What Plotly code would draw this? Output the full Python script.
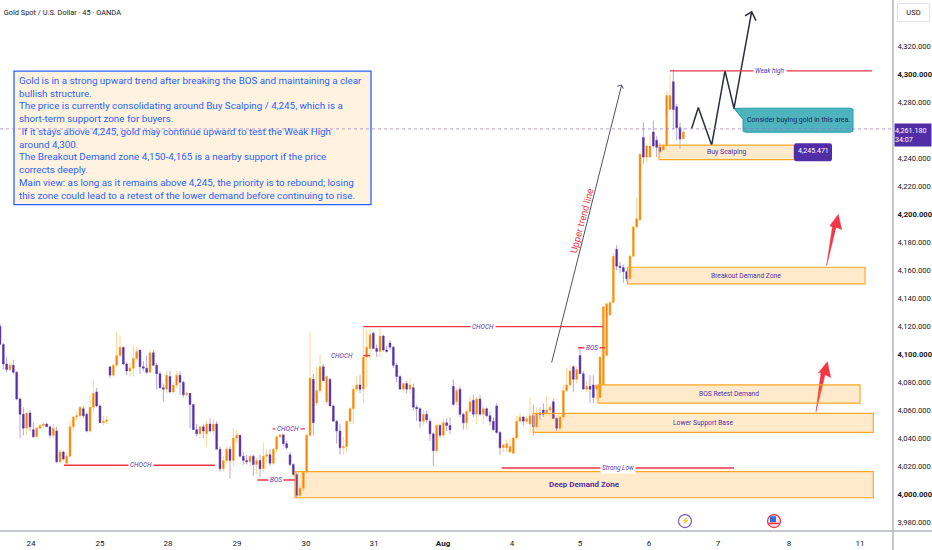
import plotly.graph_objects as go

opens = [4120,4107,4093,4089,4092,4087,4068,4057,4047,4058,4046,4041,4047,4049,4050,4048,4042,4045,4023,4030,
         4022,4027,4048,4055,4056,4061,4057,4045,4062,4073,4063,4051,4052,4091,4085,4092,4099,4105,4093,4088,
         4090,4097,4103,4091,4090,4087,4101,4092,4086,4076,4075,4084,4073,4078,4085,4080,4071,4072,4064,4046,
         4043,4048,4043,4050,4045,4050,4032,4018,4024,4032,4024,4040,4042,4027,4024,4023,4027,4021,4024,4018,
         4027,4028,4022,4032,4041,4045,4036,4028,4021,4014,3999,4004,4016,4042,4082,4065,4074,4091,4066,4082,
         4063,4052,4045,4033,4034,4052,4061,4075,4078,4075,4098,4104,4115,4104,4102,4113,4103,4108,4105,4092,
         4084,4075,4079,4075,4076,4062,4061,4052,4057,4052,4043,4031,4049,4042,4051,4049,4077,4066,4075,4057,
         4051,4059,4067,4057,4068,4057,4061,4056,4052,4063,4044,4033,4033,4030,4029,4040,4052,4055,4052,4050,
         4056,4048,4058,4060,4058,4060,4066,4054,4047,4055,4074,4078,4091,4082,4099,4086,4075,4077,4078,4075,
         4069,4078,4099,4128,4137,4175,4163,4162,4159,4154,4170,4191,4196,4255,4241,4241,4259,4253,4248,4246,
         4249,4275,4295,4277,4262,4254,4259]
highs = [4122,4108,4098,4095,4096,4088,4069,4062,4058,4060,4051,4048,4050,4051,4051,4049,4050,4048,4032,4031,
         4030,4052,4056,4059,4063,4063,4058,4070,4081,4076,4064,4056,4056,4091,4093,4116,4113,4105,4094,4094,
         4106,4105,4103,4095,4099,4103,4103,4094,4088,4079,4088,4088,4080,4088,4088,4081,4074,4072,4064,4050,
         4049,4050,4052,4054,4054,4052,4034,4027,4034,4034,4047,4046,4042,4030,4028,4028,4028,4026,4028,4037,
         4032,4032,4033,4042,4048,4045,4038,4030,4022,4015,4006,4017,4043,4116,4086,4091,4100,4093,4085,4083,
         4064,4053,4050,4041,4052,4062,4078,4084,4085,4119,4118,4118,4116,4107,4118,4114,4106,4110,4106,4094,
         4085,4080,4081,4083,4079,4064,4062,4060,4060,4054,4044,4050,4050,4054,4054,4055,4082,4076,4077,4058,
         4060,4070,4071,4070,4071,4063,4062,4059,4055,4065,4045,4036,4039,4040,4041,4056,4058,4056,4056,4069,
         4064,4062,4062,4065,4070,4064,4068,4055,4056,4078,4090,4092,4092,4091,4105,4088,4081,4085,4085,4077,
         4084,4099,4135,4138,4172,4178,4166,4164,4160,4171,4192,4212,4245,4266,4250,4257,4267,4256,4251,4250,
         4288,4300,4304,4279,4266,4262,4267]
lows = [4107,4089,4087,4088,4086,4067,4040,4042,4042,4045,4040,4040,4046,4047,4048,4040,4040,4022,4022,4024,
        4021,4026,4045,4052,4054,4054,4044,4044,4058,4062,4051,4049,4050,4083,4084,4091,4098,4092,4085,4084,
        4084,4095,4086,4088,4086,4087,4092,4075,4075,4066,4072,4072,4072,4076,4071,4069,4070,4047,4046,4041,
        4040,4040,4034,4044,4042,4032,4016,4016,4022,4011,4020,4036,4026,4021,4021,4020,4013,4014,4012,4016,
        4022,4020,4021,4030,4040,4034,4032,4020,4013,3997,3998,4002,4015,4041,4042,4063,4072,4081,4064,4063,
        4052,4036,4028,4028,4030,4050,4050,4073,4072,4065,4076,4096,4104,4098,4098,4102,4101,4103,4090,4080,
        4075,4073,4072,4072,4060,4052,4047,4049,4051,4038,4020,4029,4040,4040,4045,4043,4063,4063,4055,4046,
        4046,4058,4055,4050,4056,4050,4055,4049,4045,4043,4028,4030,4030,4029,4029,4039,4051,4049,4050,4043,
        4042,4047,4053,4055,4056,4056,4054,4045,4045,4054,4073,4076,4073,4079,4086,4075,4073,4065,4065,4067,
        4076,4096,4126,4136,4162,4160,4158,4151,4152,4168,4182,4190,4224,4236,4237,4247,4248,4241,4244,4247,
        4272,4274,4261,4253,4247,4258]
closes = [4107,4093,4089,4092,4087,4068,4057,4047,4058,4048,4041,4047,4049,4050,4048,4042,4047,4023,4030,4025,
          4027,4048,4055,4056,4062,4056,4045,4062,4072,4063,4051,4052,4053,4085,4092,4099,4105,4093,4088,4090,
          4097,4102,4091,4090,4087,4101,4092,4086,4076,4075,4085,4073,4078,4085,4080,4071,4072,4064,4046,4043,
          4048,4045,4050,4045,4050,4032,4018,4024,4032,4024,4040,4042,4027,4024,4023,4027,4021,4024,4018,4027,
          4028,4022,4032,4041,4045,4036,4033,4021,4014,3999,4004,4016,4042,4083,4051,4074,4091,4081,4084,4063,
          4052,4045,4033,4034,4052,4061,4075,4078,4075,4098,4105,4114,4104,4102,4113,4103,4102,4105,4092,4084,
          4075,4079,4075,4078,4062,4061,4052,4057,4053,4043,4031,4049,4042,4051,4049,4046,4064,4074,4057,4051,
          4059,4066,4057,4068,4057,4061,4056,4052,4046,4044,4033,4035,4036,4034,4040,4052,4055,4052,4054,4056,
          4048,4058,4057,4057,4060,4062,4054,4047,4055,4074,4078,4088,4082,4089,4086,4075,4077,4075,4069,4078,
          4098,4134,4136,4137,4170,4163,4162,4159,4154,4170,4191,4197,4243,4241,4249,4249,4249,4248,4245,4249,
          4285,4285,4275,4262,4254,4259,4261.18]
bars = list(range(len(closes)))

day_labels = ["24","25","28","29","30","31","<b>Aug</b>","4","5","6","7","8","11"]
day_bars = [9.3,30,50.4,71.1,91.8,112.2,132.9,153.6,174,194.7,215.4,236.7,258]
# 4,260 is hidden by the last price tag
price_ticks = [p for p in range(3980,4321,20) if p != 4260]
price_labels = [("<b>%s</b>" if p%100==0 else "%s") % f"{p:,.3f}" for p in price_ticks]

zone_names = ["Deep Demand Zone","Lower Support Base","BOS Retest Demand","Breakout Demand Zone","Buy Scalping"]
zone_left = [88.5,160,179.4,188.3,197.7]
zone_right = [262,262,258,259.5,238.2]
zone_low = [3997.3,4044,4065,4150.3,4239.2]
zone_high = [4016,4057.6,4078,4162.2,4249.5]

line_names = ["CHOCH","BOS","CHOCH","CHOCH","CHOCH","BOS","Strong Low","Weak high"]
line_left = [19.2,77.2,81.8,111,109,173.4,150.5,201]
line_right = [64.5,88.5,91.5,109,181,181.5,220.2,261.6]
line_price = [4020.5,4010,4046.6,4099,4119.7,4104.6,4018.6,4302.7]
line_label_x = [42.3,82.8,86.5,102.5,145,177.5,185.3,231]

zigzag_x = [207.5,209.5,213.5,217.5,220.2,225.5,None,223.5,225.5,226.8]
zigzag_y = [4261.4,4276.5,4249.5,4302.7,4275.8,4345,None,4342,4345,4338.6]
trend_x = [165.5,186.5,None,185.2,186.5,187]
trend_y = [4094,4292.5,None,4291.8,4292.5,4290]
red_arrow1_x = [248,249.7,249,251.5,252.5,250.8,248]
red_arrow1_y = [4163.4,4190.9,4192.1,4200,4189.2,4190.9,4163.4]
red_arrow2_x = [244.8,246.3,245.5,248.2,249.2,247.5,244.8]
red_arrow2_y = [4058.8,4087,4086.5,4094.6,4083.4,4085.3,4058.8]
callout_x = [220.2,223.8,255.2,255.9,255.9,255.2,223.6,222.9,222.9,220.2]
callout_y = [4275.8,4276,4276,4275.3,4259.6,4258.8,4258.8,4259.6,4268,4275.8]
icon_bars = [205.5,232.2]
icon_price = 3980.6

note_lines = [
    "Gold is in a strong upward trend after breaking the BOS and maintaining a clear",
    "bullish structure.",
    "The price is currently consolidating around Buy Scalping / 4,245, which is a",
    "short-term support zone for buyers.",
    " If it stays above 4,245, gold may continue upward to test the Weak High",
    "around 4,300.",
    "The Breakout Demand zone 4,150-4,165 is a nearby support if the price",
    "corrects deeply.",
    "Main view: as long as it remains above 4,245, the priority is to rebound; losing",
    "this zone could lead to a retest of the lower demand before continuing to rise.",
]
last_price = 4261.18
bid_price = 4245.471

PURPLE = "#512da8"
ORANGE = "#f57c00"
RED = "#f23645"
FONT = "Roboto, sans-serif"

fig = go.Figure()
fig.add_trace(go.Candlestick(
    x=bars, open=opens, high=highs, low=lows, close=closes,
    increasing=dict(line=dict(color="rgba(255,167,38,0.5)", width=1), fillcolor=ORANGE),
    decreasing=dict(line=dict(color="rgba(94,53,177,0.45)", width=1), fillcolor=PURPLE),
    hoverinfo="skip", showlegend=False,
))

for xs, ys in [(red_arrow1_x, red_arrow1_y), (red_arrow2_x, red_arrow2_y)]:
    fig.add_trace(go.Scatter(x=xs, y=ys, mode="lines", fill="toself", fillcolor=RED,
                             line=dict(color=RED, width=0.5), showlegend=False, hoverinfo="skip"))
fig.add_trace(go.Scatter(x=trend_x, y=trend_y, mode="lines", line=dict(color="#50535e", width=1),
                         showlegend=False, hoverinfo="skip"))
fig.add_trace(go.Scatter(x=callout_x, y=callout_y, mode="lines", fill="toself", fillcolor="#4db3bd",
                         line=dict(color="#2a9da8", width=1), showlegend=False, hoverinfo="skip"))
fig.add_trace(go.Scatter(x=zigzag_x, y=zigzag_y, mode="lines", line=dict(color="#2a2e39", width=1.5),
                         showlegend=False, hoverinfo="skip"))

# little icons under the candles: lightning and US flag
fig.add_trace(go.Scatter(x=icon_bars[:1], y=[icon_price], mode="markers+text", text=["⚡"], textposition="middle center",
                         textfont=dict(size=7, color="#7e57c2"),
                         marker=dict(size=13, color="white", line=dict(color="#7e57c2", width=1.2)),
                         showlegend=False, hoverinfo="skip", cliponaxis=False))
fig.add_trace(go.Scatter(x=icon_bars[1:], y=[icon_price], mode="markers",
                         marker=dict(size=13, color="#fde0e2", line=dict(color=RED, width=1.2)),
                         showlegend=False, hoverinfo="skip", cliponaxis=False))
fig.add_trace(go.Scatter(x=[icon_bars[1]-0.3], y=[icon_price+1.3], mode="markers",
                         marker=dict(size=6, color="#2f6fe0", symbol="square"),
                         showlegend=False, hoverinfo="skip", cliponaxis=False))
fig.add_trace(go.Scatter(x=[icon_bars[1]], y=[icon_price-1.7], mode="markers",
                         marker=dict(size=8, symbol="line-ew", line=dict(color=RED, width=1.5)),
                         showlegend=False, hoverinfo="skip", cliponaxis=False))

# zones sit over the candles with a see-through fill
zone_sizes = [8, 6.7, 6.7, 6.7, 6.9]
for left, right, low, high, name, size in zip(zone_left, zone_right, zone_low, zone_high, zone_names, zone_sizes):
    fig.add_shape(type="rect", x0=left, x1=right, y0=low, y1=high, layer="above",
                  fillcolor="rgba(255,152,0,0.2)", line=dict(color="#ffa726", width=1.2))
    text = f"<b>{name}</b>" if name.startswith("Deep") else name
    fig.add_annotation(x=(left+right)/2, y=(low+high)/2, text=text,
                       showarrow=False, font=dict(family=FONT, size=size, color=PURPLE))

for left, right, price, label_x, name in zip(line_left, line_right, line_price, line_label_x, line_names):
    fig.add_shape(type="line", x0=left, x1=right, y0=price, y1=price, layer="above",
                  line=dict(color=RED, width=1.4))
    fig.add_annotation(x=label_x, y=price, text=f"<i>{name}</i>", showarrow=False, bgcolor="white",
                       borderpad=1, font=dict(family=FONT, size=6.5, color="#5e35b1"))

# note box, last price line on top of it
fig.add_shape(type="rect", x0=4.2, x1=111.3, y0=4207, y1=4302.5, layer="above",
              fillcolor="#fff3e0", line=dict(color="#2962ff", width=1.3))
fig.add_shape(type="line", x0=0, x1=267.9, y0=last_price, y1=last_price, layer="above",
              line=dict(color="#9575cd", width=0.7, dash="dot"))
fig.add_annotation(x=5, y=4254.7, text="<br>".join(note_lines), showarrow=False, align="left",
                   xanchor="left", font=dict(family=FONT, size=9.8, color="#2962ff"))

fig.add_annotation(x=239.4, y=4267.4, text="Consider buying gold in this area.", showarrow=False,
                   font=dict(family=FONT, size=7, color="#1c2a5a"))
fig.add_annotation(x=174.5, y=4195.7, text="Upper trend line", textangle=-75, showarrow=False,
                   font=dict(family=FONT, size=9.5, color=RED))

# rounded tag for the Buy Scalping price
tag_left, tag_right, tag_low, tag_high = 238.2, 249.6, 4238, 4250.9
fig.add_shape(type="path", layer="above", fillcolor=PURPLE, line=dict(width=0),
              path=(f"M {tag_left+0.7} {tag_low} L {tag_right-0.7} {tag_low} Q {tag_right} {tag_low} {tag_right} {tag_low+1.6} "
                    f"L {tag_right} {tag_high-1.6} Q {tag_right} {tag_high} {tag_right-0.7} {tag_high} "
                    f"L {tag_left+0.7} {tag_high} Q {tag_left} {tag_high} {tag_left} {tag_high-1.6} "
                    f"L {tag_left} {tag_low+1.6} Q {tag_left} {tag_low} {tag_left+0.7} {tag_low} Z"))
fig.add_annotation(x=(tag_left+tag_right)/2, y=bid_price-0.3, text=f"{bid_price:,.3f}", showarrow=False,
                   font=dict(family=FONT, size=7, color="white"))

fig.add_annotation(x=1.001, xref="paper", y=last_price-4.6, xanchor="left", showarrow=False, align="left",
                   text=f"{last_price:,.3f}<br>34:07", bgcolor=PURPLE, width=36, height=22, borderpad=0,
                   font=dict(family=FONT, size=7.2, color="white"))
fig.add_annotation(x=1.004, xref="paper", y=0.994, yref="paper", yanchor="top", xanchor="left", showarrow=False,
                   text="USD", bordercolor="#e0e3eb", borderwidth=1, width=31, height=17, borderpad=0,
                   font=dict(family=FONT, size=7.5, color="#131722"))

# axis lines run on past the plot corner
fig.add_shape(type="line", xref="paper", yref="paper", x0=1, x1=1, y0=-0.04, y1=1,
              line=dict(color="#b2b5be", width=1.5))
fig.add_shape(type="line", xref="paper", yref="paper", x0=0, x1=1.045, y0=0, y1=0,
              line=dict(color="#b2b5be", width=1.5))

fig.update_layout(
    width=932, height=550, margin=dict(l=0, r=39, t=0, b=19),
    paper_bgcolor="white", plot_bgcolor="white", boxgap=0.2,
    font=dict(family=FONT, color="#131722"),
    title=dict(text="Gold Spot / U.S. Dollar · 45 · OANDA", x=0.004, xanchor="left", y=0.978, yanchor="middle",
               font=dict(family=FONT, size=7.4, color="#131722")),
    xaxis=dict(range=[0, 267.9], rangeslider_visible=False, showgrid=False, zeroline=False,
               tickvals=day_bars, ticktext=day_labels, ticks="outside", ticklen=4, tickcolor="white",
               tickfont=dict(size=8)),
    yaxis=dict(range=[3973.5, 4353.4], side="right", showgrid=False, zeroline=False,
               tickvals=price_ticks, ticktext=price_labels, ticks="outside", ticklen=2,
               tickcolor="white", tickfont=dict(size=7.6)),
)

# the browser's default page margin would push the chart 8px off
fig.write_html("out.html", config=dict(displayModeBar=False), post_script="document.body.style.margin='0';")
